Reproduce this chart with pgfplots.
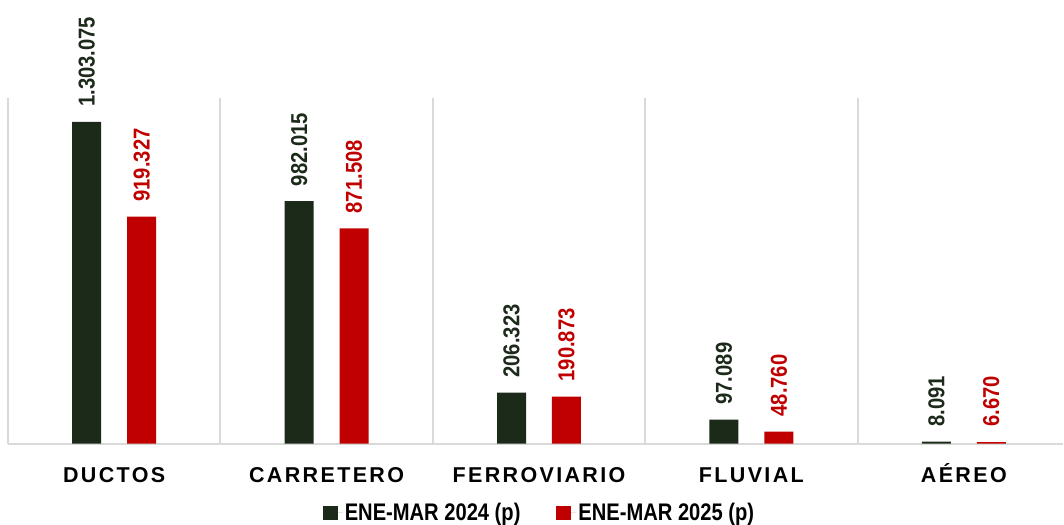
\documentclass[border=0pt]{standalone}
\usepackage{fontspec}
\usepackage{pgfplots}
\pgfplotsset{compat=1.18}
\setmainfont{Liberation Sans}
\newfontfamily\narrowfont{Liberation Sans}[FakeStretch=0.88]
\newfontfamily\legfont{Liberation Sans}[FakeStretch=0.84]
\newfontfamily\spacedfont{Liberation Sans}[LetterSpace=11]
\definecolor{dkgreen}{HTML}{1C2A1A}
\definecolor{myred}{HTML}{C00000}
\definecolor{gridgray}{HTML}{D9D9D9}
\begin{document}
\begin{tikzpicture}
\begin{axis}[
  scale only axis, width=1064pt, height=444pt,
  xmin=-0.5376, xmax=4.467, ymin=0, ymax=1796500,
  axis line style={draw=none},
  ytick=\empty,
  xtick={0,1,2,3,4},
  xticklabels={DUCTOS,CARRETERO,FERROVIARIO,FLUVIAL,AÉREO},
  major tick length=0pt,
  xticklabel style={font=\spacedfont\bfseries\fontsize{21.5}{24}\selectfont, text height=16pt, text depth=0pt, inner sep=0pt, anchor=north, yshift=-23pt},
  ybar=26pt,
  bar width=29pt,
  clip=false,
  point meta=explicit symbolic,
  nodes near coords,
  every node near coord/.append style={rotate=90, anchor=west, inner xsep=15pt, inner ysep=0pt, font=\bfseries\narrowfont\fontsize{23}{26}\selectfont},
  legend columns=2,
  legend style={at={(axis description cs:0.5075,-0.13)}, anchor=north, draw=none, font=\bfseries\legfont\fontsize{24}{26}\selectfont, inner sep=0pt, /tikz/every even column/.append style={column sep=34pt}},
  legend image code/.code={\fill[#1] (0pt,-7.5pt) rectangle (15pt,7.5pt); \path (0pt,0pt) -- (20pt,0pt);},
]
\draw[gridgray, line width=2pt] (axis cs:-0.5,0) -- (axis cs:4.467,0);
\foreach \s in {-0.5,0.5,1.5,2.5,3.5} {
  \edef\tmp{\noexpand\draw[gridgray, line width=2pt] (axis cs:\s,0) -- (axis cs:\s,1400000);}
  \tmp
}
\addplot[fill=dkgreen, draw=none, every node near coord/.append style={text=dkgreen}]
  coordinates {(0,1303075)[1.303.075] (1,982015)[982.015] (2,206323)[206.323] (3,97089)[97.089] (4,8091)[8.091]};
\addlegendentry{ENE-MAR 2024 (p)}
\addplot[fill=myred, draw=none, every node near coord/.append style={text=myred}]
  coordinates {(0,919327)[919.327] (1,871508)[871.508] (2,190873)[190.873] (3,48760)[48.760] (4,6670)[6.670]};
\addlegendentry{ENE-MAR 2025 (p)}
\end{axis}
\end{tikzpicture}
\end{document}
